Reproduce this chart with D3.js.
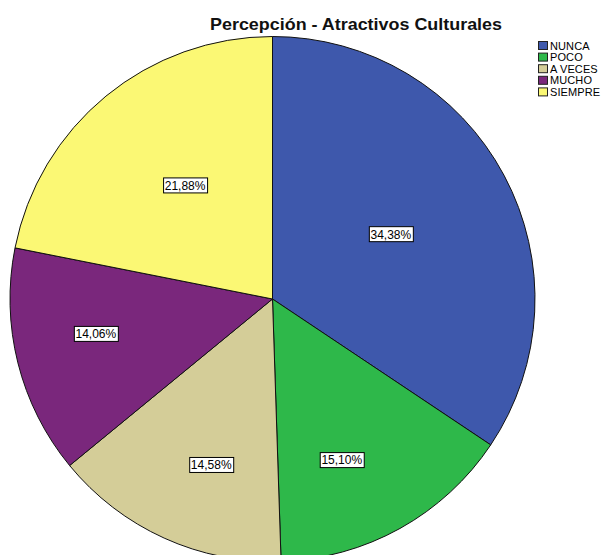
<!DOCTYPE html>
<html>
<head>
<meta charset="utf-8">
<script src="https://cdn.jsdelivr.net/npm/d3@7"></script>
<style>
  html, body { margin: 0; padding: 0; background: #fff; }
  svg { display: block; font-family: "Liberation Sans", Arial, sans-serif; }
</style>
</head>
<body>
<svg id="chart" width="601" height="555"></svg>
<script>
// Category order, percentages and slice colours
const categories = ["NUNCA", "POCO", "A VECES", "MUCHO", "SIEMPRE"];
const percentages = [34.38, 15.10, 14.58, 14.06, 21.88];
const sliceColors = ["#3e58ac", "#2eb84a", "#d4cd98", "#7a277c", "#fbf874"];

// Label placement along each slice: [fraction of radius, angular nudge in degrees]
const labelPlacement = [[0.514, -0.6], [0.668, 5.8], [0.674, -4.1], [0.686, 2.9], [0.546, 1.8]];

const width = 601, height = 555;
const cx = 272.5, cy = 299, radius = 262.5;

const svg = d3.select("#chart");

const data = categories.map((c, i) => ({ category: c, value: percentages[i], color: sliceColors[i] }));

const pie = d3.pie().value(d => d.value).sort(null);
const arcs = pie(data);
const arc = d3.arc().innerRadius(0).outerRadius(radius);

const g = svg.append("g").attr("transform", `translate(${cx},${cy})`);

g.selectAll("path.slice")
  .data(arcs)
  .join("path")
  .attr("class", "slice")
  .attr("d", arc)
  .attr("fill", d => d.data.color)
  .attr("stroke", "#111")
  .attr("stroke-width", 1)
  .attr("stroke-linejoin", "round");

// Percentage labels in white boxes
const fmt = v => v.toFixed(2).replace(".", ",") + "%";
const labels = g.selectAll("g.lbl")
  .data(arcs)
  .join("g")
  .attr("class", "lbl")
  .attr("transform", (d, i) => {
    const [f, nudge] = labelPlacement[i];
    const a = (d.startAngle + d.endAngle) / 2 + nudge * Math.PI / 180;
    const r = f * radius;
    return `translate(${r * Math.sin(a)},${-r * Math.cos(a)})`;
  });

labels.append("text")
  .attr("text-anchor", "middle")
  .attr("dy", "0.36em")
  .attr("font-size", 12)
  .attr("fill", "#000")
  .text(d => fmt(d.data.value));

labels.each(function() {
  const grp = d3.select(this);
  const bb = grp.select("text").node().getBBox();
  grp.insert("rect", "text")
    .attr("x", Math.round(bb.x) - 1.5)
    .attr("y", -7.5)
    .attr("width", Math.round(bb.width) + 3)
    .attr("height", 15)
    .attr("fill", "#fff")
    .attr("stroke", "#000")
    .attr("stroke-width", 1);
});

// Title
svg.append("text")
  .attr("x", 356)
  .attr("y", 30)
  .attr("text-anchor", "middle")
  .attr("font-size", 17)
  .attr("font-weight", "bold")
  .attr("textLength", 292)
  .attr("lengthAdjust", "spacingAndGlyphs")
  .attr("fill", "#111")
  .text("Percepción - Atractivos Culturales");

// Legend
const legend = svg.append("g").attr("transform", "translate(538,41)");
const rowH = 11.6;
const items = legend.selectAll("g")
  .data(data)
  .join("g")
  .attr("transform", (d, i) => `translate(0,${i * rowH})`);
items.append("rect")
  .attr("x", 0.5).attr("y", 0.5)
  .attr("width", 9).attr("height", 8)
  .attr("fill", d => d.color)
  .attr("stroke", "#222")
  .attr("stroke-width", 1);
items.append("text")
  .attr("x", 12)
  .attr("y", 8.5)
  .attr("font-size", 11)
  .attr("letter-spacing", 0.1)
  .attr("fill", "#000")
  .text(d => d.category);
</script>
</body>
</html>
